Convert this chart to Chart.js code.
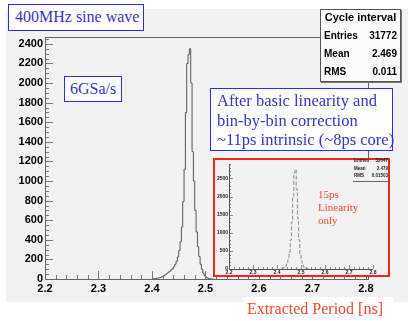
<!DOCTYPE html>
<html>
<head>
<meta charset="utf-8">
<script src="https://cdn.jsdelivr.net/npm/chart.js@4.4.0/dist/chart.umd.min.js"></script>
<style>
  html, body { margin: 0; padding: 0; background: #fff; }
  #wrap { position: relative; width: 414px; height: 321px; overflow: hidden; }
  #main { position: absolute; left: 0; top: 0; }
  .note { position: absolute; background: #fff; border: 1.5px solid #2b2bff; color: #3535c4;
          font-family: "Liberation Serif", "Times New Roman", serif; box-sizing: border-box; white-space: nowrap; }
  #stats { position: absolute; left: 320px; top: 9px; width: 81px; height: 73px; background: #fbfbfb;
           border: 1px solid #555; box-shadow: 1px 1px 0 #777; box-sizing: border-box;
           font-family: "Liberation Sans", Arial, sans-serif; font-weight: bold; color: #000; }
  #stats .t { position: absolute; left: 0; right: 0; top: 1px; text-align: center; font-size: 11px; }
  #stats .r { position: absolute; left: 3px; right: 3px; font-size: 10px; }
  #stats .r span { float: right; }
  #insetBox { position: absolute; left: 213px; top: 158px; width: 177px; height: 119px;
              border: 2px solid #f02418; box-sizing: border-box; background: #f2f2f2; }
  #inset { position: absolute; left: 0; top: 0; }
  #istats { position: absolute; left: 138px; top: 0; width: 36px; height: 21px; border-bottom: 1px solid #666;
            font-family: "Liberation Sans", Arial, sans-serif; font-size: 4.5px; font-weight: bold; color: #222; }
  #istats div { position: absolute; left: 1px; right: 1px; }
  #istats span { float: right; }
  .red { position: absolute; color: #f04a2a; font-family: "Liberation Serif", "Times New Roman", serif; white-space: nowrap; }
</style>
</head>
<body>
<div id="wrap">
  <canvas id="main" width="414" height="321"></canvas>

  <div class="note" style="left:8px;top:4px;width:136px;height:27px;font-size:16px;line-height:24px;padding-left:6px;">400MHz sine wave</div>
  <div class="note" style="left:64px;top:76px;width:58px;height:26px;font-size:16px;line-height:23px;padding-left:5px;">6GSa/s</div>

  <div id="stats">
    <div class="t">Cycle interval</div>
    <div class="r" style="top:20px;">Entries<span>31772</span></div>
    <div class="r" style="top:38px;">Mean<span>2.469</span></div>
    <div class="r" style="top:56px;">RMS<span>0.011</span></div>
  </div>

  <div class="note" style="left:210px;top:88px;width:183px;height:63px;font-size:16.5px;line-height:19.5px;padding:2px 0 0 6px;">After basic linearity and<br>bin-by-bin correction<br>~11ps intrinsic (~8ps core)</div>

  <div id="insetBox">
    <canvas id="inset" width="173" height="115"></canvas>
    <div id="istats">
      <div style="top:-2px;">Entries<span>32047</span></div>
      <div style="top:6px;">Mean<span>2.479</span></div>
      <div style="top:13px;">RMS<span>0.01503</span></div>
    </div>
    <div class="red" style="left:103px;top:28px;font-size:11px;line-height:13px;">15ps<br>Linearity<br>only</div>
  </div>

  <div style="position:absolute;left:243px;top:297px;width:150px;height:24px;background:#fff;"></div>
  <div class="red" style="left:247px;top:299px;font-size:16px;line-height:20px;">Extracted Period [ns]</div>
</div>

<script>
// main histogram: bin edges (ns) and counts per bin
const mainEdges = [2.4000, 2.4025, 2.4050, 2.4075, 2.4100, 2.4125, 2.4150, 2.4175, 2.4200, 2.4225,
                   2.4250, 2.4275, 2.4300, 2.4325, 2.4350, 2.4375, 2.4400, 2.4425, 2.4450, 2.4475,
                   2.4500, 2.4525, 2.4550, 2.4575, 2.4600, 2.4625, 2.4650, 2.4675, 2.4700, 2.4725,
                   2.4750, 2.4775, 2.4800, 2.4825, 2.4850, 2.4875, 2.4900, 2.4925, 2.4950, 2.4975,
                   2.5000, 2.5025, 2.5050, 2.5075, 2.5100, 2.5125, 2.5150];
const mainCounts = [2, 3, 4, 5, 7, 9, 12, 16, 21, 28,
                    38, 48, 58, 70, 80, 92, 105, 125, 150, 180,
                    225, 290, 380, 530, 790, 1120, 1700, 2200, 2290, 2350,
                    2000, 1300, 1000, 700, 480, 330, 230, 150, 100, 60,
                    35, 20, 11, 6, 3, 2];

// inset histogram (linearity correction only)
const insetEdges = [2.420, 2.425, 2.430, 2.435, 2.440, 2.445, 2.450, 2.455, 2.460, 2.465, 2.470, 2.475,
                    2.480, 2.485, 2.490, 2.495, 2.500, 2.505, 2.510, 2.515, 2.520, 2.525, 2.530, 2.535];
const insetCounts = [5, 15, 30, 55, 90, 150, 260, 460, 800, 1300, 2000, 2650,
                     2750, 2200, 1400, 800, 420, 220, 110, 55, 25, 10, 4];

const xTicks = [2.2, 2.3, 2.4, 2.5, 2.6, 2.7, 2.8];
const yTicksMain = [0, 200, 400, 600, 800, 1000, 1200, 1400, 1600, 1800, 2000, 2200, 2400];
const yTicksInset = [0, 500, 1000, 1500, 2000, 2500];

function toSteps(edges, counts) {
  const pts = counts.map((c, i) => ({ x: edges[i], y: c }));
  pts.push({ x: edges[edges.length - 1], y: 0 });
  return pts;
}

// grey pad behind the main frame
const padFill = {
  id: 'padFill',
  beforeDraw(chart, args, o) {
    if (!o.rect) return;
    const ctx = chart.ctx;
    ctx.save();
    ctx.fillStyle = '#fff';
    ctx.fillRect(0, 0, chart.width, chart.height);
    ctx.fillStyle = '#f2f2f2';
    ctx.fillRect(o.rect[0], o.rect[1], o.rect[2], o.rect[3]);
    ctx.restore();
  }
};

// ROOT-style frame with inward ticks
const frameTicks = {
  id: 'frameTicks',
  afterDatasetsDraw(chart, args, o) {
    const { ctx, chartArea: a, scales: { x, y } } = chart;
    ctx.save();
    ctx.lineWidth = 1;
    ctx.strokeStyle = o.tickColor;
    ctx.beginPath();
    for (let i = 0; i <= o.xN; i++) {
      const px = Math.round(x.getPixelForValue(o.x0 + i * o.xStep)) + 0.5;
      const len = i % o.xPer === 0 ? o.major : o.minor;
      ctx.moveTo(px, a.bottom);
      ctx.lineTo(px, a.bottom - len);
    }
    for (let i = 0; i <= o.yN; i++) {
      const py = Math.round(y.getPixelForValue(i * o.yStep)) + 0.5;
      const len = i % o.yPer === 0 ? o.major : o.minor;
      ctx.moveTo(a.left, py);
      ctx.lineTo(a.left + len, py);
    }
    ctx.stroke();
    ctx.strokeStyle = o.frameColor;
    ctx.beginPath();
    if (o.box) {
      ctx.strokeRect(Math.round(a.left) + 0.5, Math.round(a.top) + 0.5, Math.round(a.right - a.left), Math.round(a.bottom - a.top));
    } else {
      ctx.moveTo(Math.round(a.left) + 0.5, a.top);
      ctx.lineTo(Math.round(a.left) + 0.5, Math.round(a.bottom) + 0.5);
      ctx.lineTo(a.right, Math.round(a.bottom) + 0.5);
      ctx.stroke();
    }
    ctx.restore();
  }
};

const labelFont = { family: 'Liberation Sans', weight: 'bold', size: 11 };

new Chart(document.getElementById('main'), {
  type: 'line',
  data: {
    datasets: [{
      data: toSteps(mainEdges, mainCounts),
      stepped: 'after',
      borderColor: '#555',
      borderWidth: 1,
      pointRadius: 0,
      fill: false
    }]
  },
  options: {
    responsive: false,
    animation: false,
    events: [],
    layout: { padding: { left: 6, top: 37, right: 46, bottom: 0 } },
    plugins: {
      legend: { display: false },
      tooltip: { enabled: false },
      padFill: { rect: [6, 9, 402, 293] },
      frameTicks: { tickColor: '#777', frameColor: '#666', box: true, major: 8, minor: 4,
                    x0: 2.2, xStep: 0.02, xN: 30, xPer: 5, yStep: 50, yN: 49, yPer: 4 }
    },
    scales: {
      x: {
        type: 'linear', min: 2.2, max: 2.804,
        afterFit(s) { s.height = 42; },
        afterBuildTicks(s) { s.ticks = xTicks.map(v => ({ value: v })); },
        grid: { display: false, drawTicks: false },
        border: { display: false },
        ticks: { padding: 3, color: '#000', font: labelFont, maxRotation: 0, callback: v => v.toFixed(1) }
      },
      y: {
        min: 0, max: 2470,
        afterFit(s) { s.width = 39; },
        afterBuildTicks(s) { s.ticks = yTicksMain.map(v => ({ value: v })); },
        grid: { display: false, drawTicks: false },
        border: { display: false },
        ticks: { padding: 2, color: '#000', font: labelFont, callback: v => String(v) }
      }
    }
  },
  plugins: [padFill, frameTicks]
});

const tinyFont = { family: 'Liberation Sans', weight: 'bold', size: 5 };

new Chart(document.getElementById('inset'), {
  type: 'line',
  data: {
    datasets: [{
      data: toSteps(insetEdges, insetCounts),
      stepped: 'after',
      borderColor: '#8a8a8a',
      borderWidth: 1,
      borderDash: [4, 2],
      pointRadius: 0,
      fill: false
    }]
  },
  options: {
    responsive: false,
    animation: false,
    events: [],
    layout: { padding: { left: 0, top: 0, right: 15, bottom: 0 } },
    plugins: {
      legend: { display: false },
      tooltip: { enabled: false },
      frameTicks: { tickColor: '#888', frameColor: '#555', box: false, major: 4, minor: 2,
                    x0: 2.2, xStep: 0.02, xN: 30, xPer: 5, yStep: 100, yN: 29, yPer: 5 }
    },
    scales: {
      x: {
        type: 'linear', min: 2.2, max: 2.8,
        afterFit(s) { s.height = 6; },
        afterBuildTicks(s) { s.ticks = xTicks.map(v => ({ value: v })); },
        grid: { display: false, drawTicks: false },
        border: { display: false },
        ticks: { padding: 1, color: '#222', font: tinyFont, maxRotation: 0, callback: v => v.toFixed(1) }
      },
      y: {
        min: 0, max: 2900,
        afterFit(s) { s.width = 14; },
        afterBuildTicks(s) { s.ticks = yTicksInset.map(v => ({ value: v })); },
        grid: { display: false, drawTicks: false },
        border: { display: false },
        ticks: { padding: 1, color: '#222', font: tinyFont, callback: v => String(v) }
      }
    }
  },
  plugins: [frameTicks]
});
</script>
</body>
</html>
